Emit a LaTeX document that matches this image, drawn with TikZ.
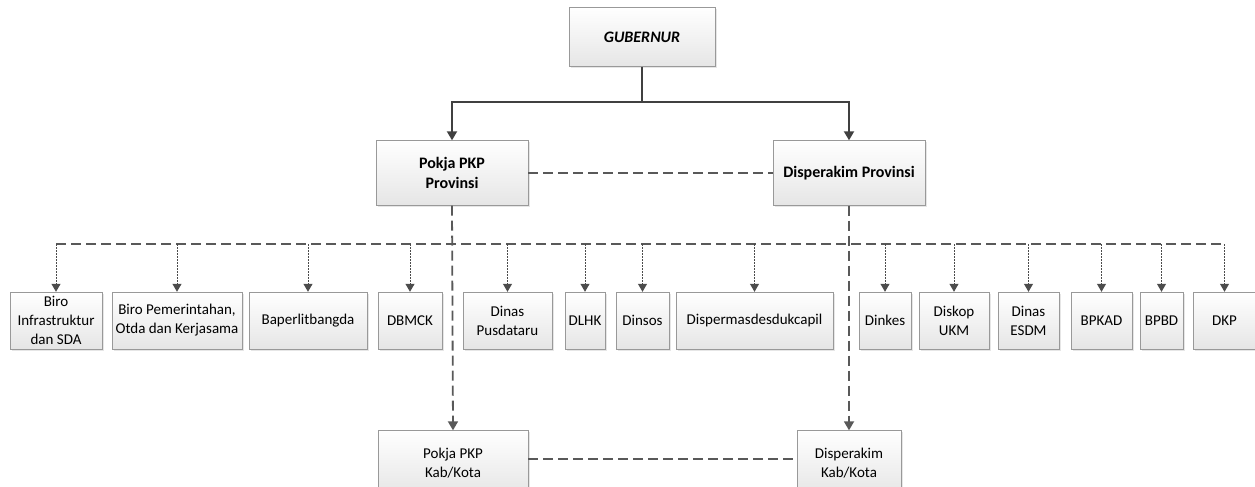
\documentclass[tikz,border=0pt]{standalone}
\usepackage{fontspec}
\setmainfont{Carlito}
\usetikzlibrary{arrows.meta,shadows}

\begin{document}
\begin{tikzpicture}[x=1pt,y=-1pt]
\tikzstyle{every node}+=[inner sep=0pt]
\tikzstyle{box}=[draw=gray!80, top color=white, bottom color=gray!20, align=center, minimum height=57pt, font=\fontsize{15}{19}\selectfont, drop shadow={opacity=0.2,shadow xshift=1.5pt,shadow yshift=-1.5pt}]
\tikzstyle{head}=[box, minimum height=65pt, font=\fontsize{16}{19.5}\selectfont\bfseries]
\tikzstyle{main}=[line width=2pt, draw=black!75, -{Triangle[length=9pt,width=10pt]}]
\tikzstyle{link}=[line width=1.8pt, draw=black!65, dash pattern=on 10pt off 5pt]
\tikzstyle{sub}=[line width=1pt, draw=black!70, dash pattern=on 1.5pt off 1.5pt, -{Triangle[length=8pt,width=9pt]}]
\useasboundingbox (0,0) rectangle (1255,487);
\clip (0,0) rectangle (1255,487);
\node[box, minimum width=146pt, minimum height=59pt, font=\fontsize{16}{19}\selectfont\bfseries\itshape] (gub) at (642,37) {GUBERNUR};
\node[head, minimum width=152pt] (pokjaprov) at (452,173) {Pokja PKP\\Provinsi};
\node[head, minimum width=152pt] (disprov) at (849,173) {Disperakim Provinsi};
\node[box, minimum width=150pt, minimum height=65pt] (pokjakab) at (453,463) {Pokja PKP\\Kab/Kota};
\node[box, minimum width=104pt, minimum height=65pt] (dispkab) at (849,463) {Disperakim\\Kab/Kota};
\node[box, minimum width=92pt] (biro1) at (56,320.5) {Biro\\Infrastruktur\\dan SDA};
\node[box, minimum width=130pt] (biro2) at (177,320.5) {Biro Pemerintahan,\\Otda dan Kerjasama};
\node[box, minimum width=118pt] (baper) at (308,320.5) {Baperlitbangda};
\node[box, minimum width=64pt] (dbmck) at (410,320.5) {DBMCK};
\node[box, minimum width=89pt] (pusdataru) at (507.5,320.5) {Dinas\\Pusdataru};
\node[box, minimum width=40pt] (dlhk) at (585,320.5) {DLHK};
\node[box, minimum width=53pt] (dinsos) at (642.5,320.5) {Dinsos};
\node[box, minimum width=157pt] (disperm) at (754.5,320.5) {Dispermasdesdukcapil};
\node[box, minimum width=52pt] (dinkes) at (885,320.5) {Dinkes};
\node[box, minimum width=70pt] (diskop) at (954,320.5) {Diskop\\UKM};
\node[box, minimum width=61pt] (esdm) at (1028.5,320.5) {Dinas\\ESDM};
\node[box, minimum width=61pt] (bpkad) at (1101.5,320.5) {BPKAD};
\node[box, minimum width=43pt] (bpbd) at (1161.5,320.5) {BPBD};
\node[box, minimum width=63pt] (dkp) at (1224.5,320.5) {DKP};
\coordinate (split) at (642,102);
\coordinate (bus) at (0,244);
\draw[line width=2pt, draw=black!75] (gub.south) -- (split);
\draw[main] (split) -| (pokjaprov.north);
\draw[main] (split) -| (disprov.north);
\draw[link] (pokjaprov) -- (disprov);
\draw[link] (biro1.north |- bus) -- (dkp.north |- bus);
\draw[link, -{Triangle[length=9pt,width=10pt]}] (pokjaprov.south) -- (pokjakab.north);
\draw[link, -{Triangle[length=9pt,width=10pt]}] (disprov.south) -- (dispkab.north);
\draw[link] (pokjakab.east |- 0,459) -- (dispkab.west |- 0,459);
\foreach \n in {biro1,biro2,baper,dbmck,pusdataru,dlhk,dinsos,disperm,dinkes,diskop,esdm,bpkad,bpbd,dkp}
  \draw[sub] (\n.north |- bus) -- (\n.north);
\end{tikzpicture}
\end{document}
